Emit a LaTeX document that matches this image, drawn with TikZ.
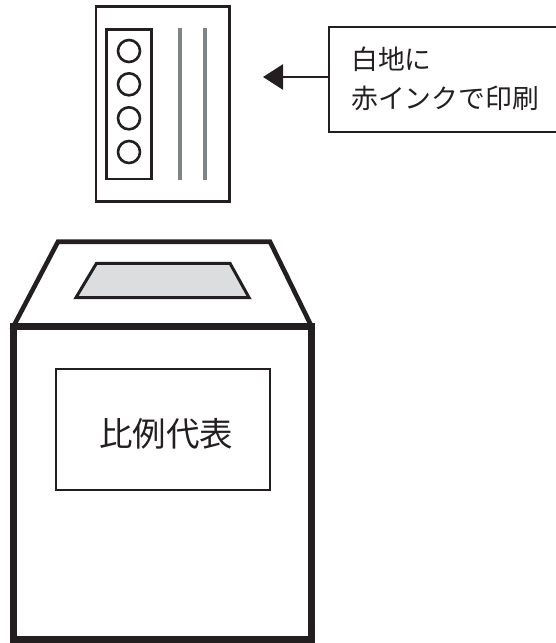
\documentclass[tikz,border=0pt]{standalone}
\usepackage{fontspec}
\newfontfamily\cjk{Noto Sans CJK JP}
\usetikzlibrary{arrows.meta}
\definecolor{ink}{HTML}{231F20}
\definecolor{stripe}{HTML}{7D8589}
\definecolor{slotfill}{HTML}{DCDDDF}
\begin{document}
\begin{tikzpicture}[x=1pt,y=-1pt,
  thinline/.style={draw=ink,line width=2.6pt},
  boxline/.style={draw=ink,line width=7pt},
  lidline/.style={draw=ink,line width=4.6pt,line join=miter},
  labeltext/.style={font=\cjk\fontsize{26.8}{32}\selectfont,text=ink,inner sep=0pt,anchor=west}]
\useasboundingbox (0,0) rectangle (555,643);
% ballot paper
\draw[thinline] (96,6.7) rectangle (229.3,201.3);
\draw[thinline] (106.7,29.7) rectangle (151.3,179);
\foreach \cy in {51,84.3,118.3,152} \draw[thinline] (129,\cy) circle (11);
\draw[stripe,line width=4pt] (180,28.3) -- (180,180);
\draw[stripe,line width=4pt] (204.7,28.3) -- (204.7,180);
% label box
\node[draw=ink,line width=2.4pt,minimum width=240pt,minimum height=105.5pt,anchor=north west,inner sep=0pt] (label) at (327.7,25.5) {};
\node[labeltext] (t1) at (351,59.5) {白地に};
\node[labeltext] (t2) at (351,98.5) {赤インクで印刷};
\coordinate (tip) at (263,77);
\draw[ink,line width=2.7pt,-{Triangle[length=20pt,width=25pt]}] (label.west |- tip) -- (tip);
% ballot box
\draw[lidline] (58,241.7) -- (270,241.7) -- (311.5,326.3) -- (13.5,326.3) -- cycle;
\draw[draw=ink,line width=3pt,fill=slotfill] (96.5,263.3) -- (230,263.3) -- (249,297.5) -- (76,297.5) -- cycle;
\draw[boxline] (13.5,326.3) rectangle (311.5,639.5);
\node[draw=ink,line width=2.5pt,minimum width=214pt,minimum height=121pt,inner sep=0pt] (party) at (163,429.5) {};
\node[font=\cjk\fontsize{33.5}{40}\selectfont,text=ink,inner sep=0pt] (ptext) at (166,434) {比例代表};
\end{tikzpicture}
\end{document}
